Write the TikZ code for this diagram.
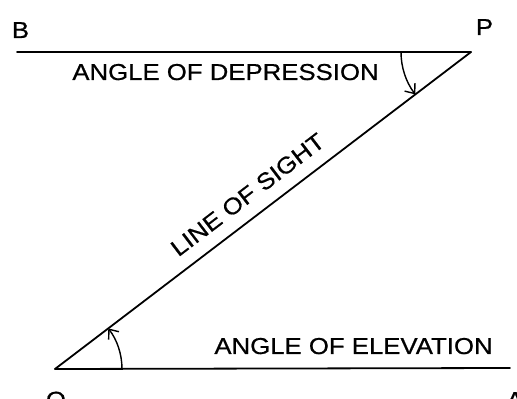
\documentclass[tikz,border=0pt]{standalone}
\usepackage{fontspec}
\setmainfont{Liberation Sans}
\newfontfamily\lblfont{Liberation Sans}[FakeBold=0.6]
\usetikzlibrary{arrows.meta}
\begin{document}
\begin{tikzpicture}[x=1pt,y=1pt,
  lbl/.style={inner sep=0pt, font=\lblfont\fontsize{23}{26}\selectfont, xscale=1.12},
  ln/.style={line width=1.8pt, line cap=round},
  arc/.style={line width=1.4pt, -{Straight Barb[length=8pt,width=13pt,line width=1.4pt]}}]
\clip (0,0) rectangle (517,399);
\fill[white] (0,0) rectangle (517,399);
\coordinate (P) at (471,347);
\coordinate (O) at (55,30);
\coordinate (Bend) at (17,347);
\coordinate (Aend) at (510,31);
\draw[ln] (Bend) -- (P);
\draw[ln] (O) -- (Aend);
\draw[ln] (O) -- (P) node[pos=0.495, sloped, above=14pt, lbl, anchor=base] (los) {LINE OF SIGHT};
\draw[arc] ([xshift=67pt]O) arc[start angle=0, end angle=37.3, radius=67pt];
\draw[arc] ([xshift=-70pt]P) arc[start angle=180, end angle=217.3, radius=70pt];
\node[lbl, anchor=base] (dep) at (225.5,319) {ANGLE OF DEPRESSION};
\node[lbl, anchor=base] (elev) at (353.5,45) {ANGLE OF ELEVATION};
\node[lbl, anchor=base] (B) at (20.5,361) {B};
\node[lbl, anchor=base] (Pl) at (484.5,364) {P};
\node[lbl, anchor=north] (Ol) at (56,7.5) {O};
\node[lbl, anchor=north] (Al) at (515,7) {A};
\end{tikzpicture}
\end{document}
